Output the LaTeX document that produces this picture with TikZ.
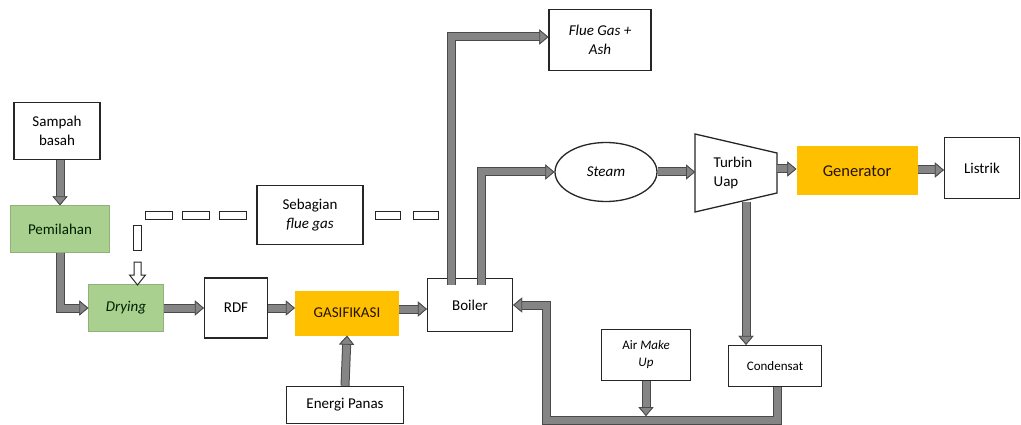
\documentclass[tikz,border=0pt]{standalone}
\usepackage{fontspec}
\setmainfont{Carlito}
\usetikzlibrary{arrows.meta,shapes.geometric,calc}
\definecolor{boxline}{HTML}{262626}
\definecolor{pipegray}{HTML}{858585}
\definecolor{pipedark}{HTML}{4A4A4A}
\definecolor{greenbox}{HTML}{A9D08E}
\definecolor{orangebox}{HTML}{FFC000}
\tikzset{
  base/.style={align=center, inner sep=2pt, font=\fontsize{15}{19}\selectfont, text=black},
  box/.style={base, draw=boxline, line width=1.3pt, fill=white},
  greenb/.style={base, fill=greenbox, draw=greenbox!85!black, line width=0.4pt, text=black!80!green!60!black},
  orangeb/.style={base, fill=orangebox},
  smallfont/.style={font=\fontsize{13}{17}\selectfont},
  pipe/.style={line width=7pt, draw=pipegray, line join=miter,
    preaction={draw=pipedark, line width=9pt},
    -{Triangle[width=15pt,length=9pt,fill=pipegray,color=pipedark,line width=0.8pt]}},
  fdash/.style={draw=boxline, line width=1pt, fill=white}
}
\begin{document}
\begin{tikzpicture}[x=1pt,y=-1pt]
\useasboundingbox (0,0) rectangle (1021,425);

% nodes
\node[box, minimum width=86pt, minimum height=57pt] (sampah) at (57,131) {Sampah\\basah};
\node[greenb, minimum width=99pt, minimum height=47pt] (pemil) at (60,229) {Pemilahan};
\node[greenb, minimum width=75pt, minimum height=47pt] (drying) at (126,308) {\itshape Drying};
\node[box, minimum width=63pt, minimum height=60pt] (rdf) at (236,308) {RDF};
\node[orangeb, minimum width=104pt, minimum height=45pt, text=black!85!orange] (gas) at (347,313) {GASIFIKASI};
\node[box, minimum width=117pt, minimum height=37pt] (energi) at (345,405) {Energi Panas};
\node[box, minimum width=85pt, minimum height=53pt] (boiler) at (470,305) {Boiler};
\node[box, minimum width=102pt, minimum height=61pt] (flue) at (600,40) {\itshape Flue Gas +\\\itshape Ash};
\node[box, minimum width=106pt, minimum height=59pt] (sebagian) at (310,215) {Sebagian\\\itshape flue gas};
\node[base, ellipse, draw=boxline, line width=1.3pt, minimum width=102pt, minimum height=59pt, inner sep=0pt] (steam) at (606,172) {\itshape Steam};
\coordinate (tA) at (695,134);
\coordinate (tB) at (777,153);
\coordinate (tC) at (777,193);
\coordinate (tD) at (695,212);
\draw[draw=boxline, line width=1.3pt, fill=white] (tA) -- (tB) -- (tC) -- (tD) -- cycle;
\node[base, align=left] (turbin) at (733,173) {Turbin\\Uap};
\node[orangeb, minimum width=121pt, minimum height=49pt, font=\fontsize{16.5}{20}\selectfont, text=black!85!orange] (gen) at (857,171) {Generator};
\node[box, minimum width=75pt, minimum height=61pt] (listrik) at (982,168) {Listrik};
\node[box, smallfont, minimum width=89pt, minimum height=51pt] (air) at (646,355) {Air \itshape Make\\\itshape Up};
\node[box, smallfont, minimum width=93pt, minimum height=41pt] (cond) at (775,366) {Condensat};

\coordinate (tin) at (695,172);
\coordinate (tout) at (777,169);
\coordinate (tbot) at (746,202);
\coordinate (bl) at (546,420);
\coordinate (bpipeL) at ($(boiler.north)+(-19,7)$);
\coordinate (bpipeR) at ($(boiler.north)+(11,7)$);

% pipes
\draw[pipe] (sampah.south -| pemil.center) -- (pemil.north);
\draw[pipe] (pemil.south) |- (drying.west);
\draw[pipe] (drying.east) -- (rdf.west);
\draw[pipe] (rdf.east) -- (rdf.east -| gas.west);
\draw[pipe] (gas.east |- boiler.west) ++(0,4) -- ($(boiler.west)+(0,4)$);
\draw[pipe] (energi.north) -- (gas.south);
\draw[pipe] (bpipeL) |- ($(flue.west)+(0,-3)$);
\draw[pipe] (bpipeR) |- (steam.west);
\draw[pipe] (steam.east) -- (tin);
\draw[pipe] (tout) -- (tout -| gen.west);
\draw[pipe] (gen.east |- listrik.west) ++(0,2) -- ($(listrik.west)+(0,2)$);
\draw[pipe] (tbot) -- (tbot |- cond.north);
\draw[pipe] ($(cond.south)+(2,0)$) |- (bl) |- (boiler.east);
\draw[pipe, shorten >=4pt] (air.south) -- (air.south |- bl);

% partial flue gas (dashed hollow line)
\foreach \xa/\xb in {145/172, 182/209, 219/246, 375/400, 413/438}
  \draw[fdash] (\xa,212) rectangle (\xb,220);
\draw[fdash] (133,226) rectangle (141,250);
\draw[fdash] (134,262) -- (141,262) -- (141,275) -- (145.5,275) -- (137.5,285) -- (129.5,275) -- (134,275) -- cycle;
\end{tikzpicture}
\end{document}
